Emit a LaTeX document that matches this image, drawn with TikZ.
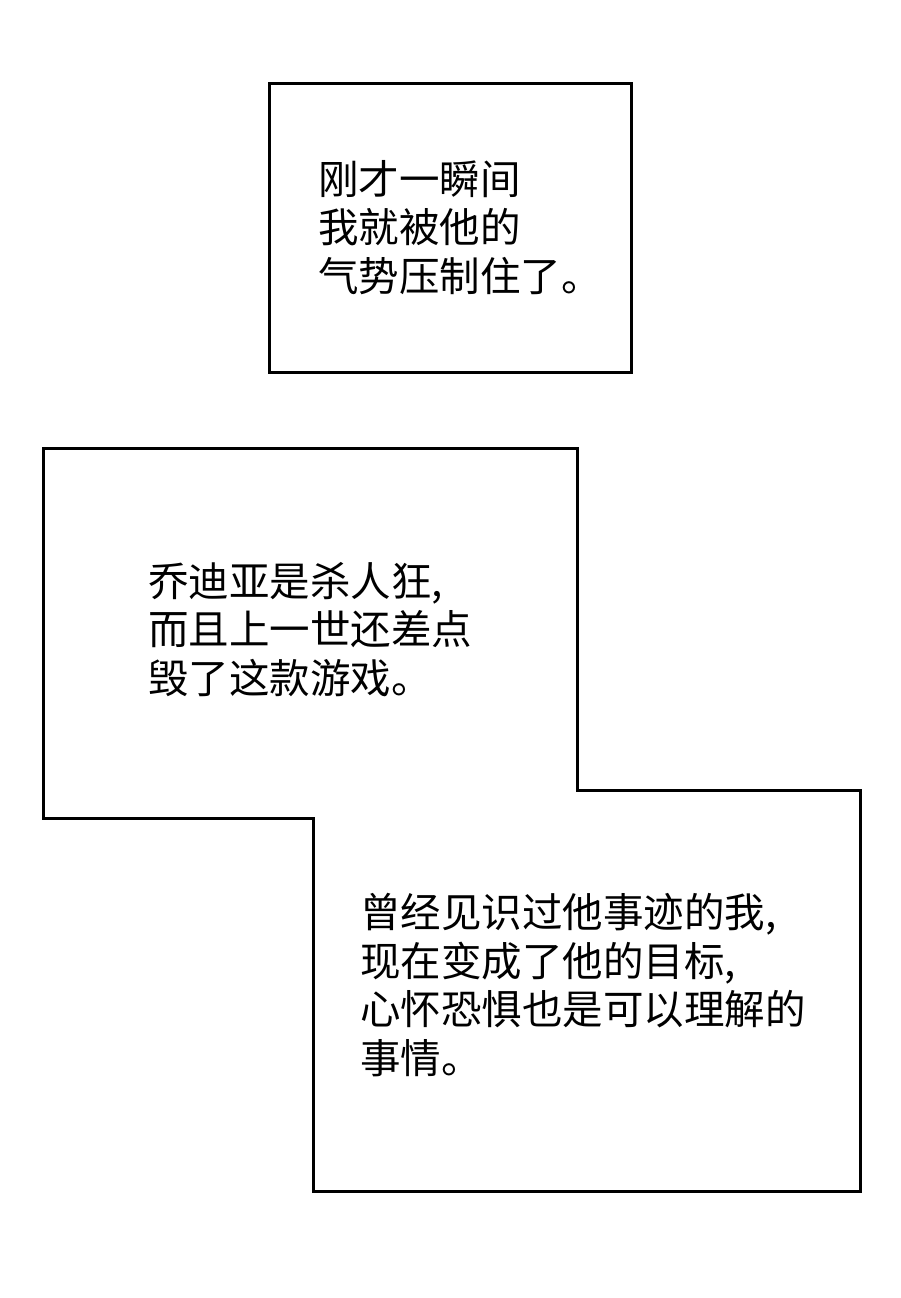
\documentclass[tikz,border=0pt]{standalone}
\usepackage{fontspec}
\newfontfamily\cjk{Noto Sans CJK SC}
\begin{document}
\begin{tikzpicture}[x=1pt,y=-1pt,
  boxline/.style={draw=black,line width=3pt,fill=white},
  txt/.style={font=\cjk\fontsize{40.5}{48.5}\selectfont,align=left,anchor=north west,inner sep=0pt}]
\useasboundingbox[fill=white] (0,0) rectangle (900,1298);
\draw[boxline] (269,83) rectangle (631,372);
\draw[boxline] (43,448) -- (577,448) -- (577,790) -- (860,790) -- (860,1191) -- (313,1191) -- (313,818) -- (43,818) -- cycle;
\node[txt] (t1) at (318,160) {刚才一瞬间\\我就被他的\\气势压制住了。};
\node[txt] (t2) at (148,562) {乔迪亚是杀人狂,\\而且上一世还差点\\毁了这款游戏。};
\node[txt] (t3) at (360,893) {曾经见识过他事迹的我,\\现在变成了他的目标,\\心怀恐惧也是可以理解的\\事情。};
\end{tikzpicture}
\end{document}
